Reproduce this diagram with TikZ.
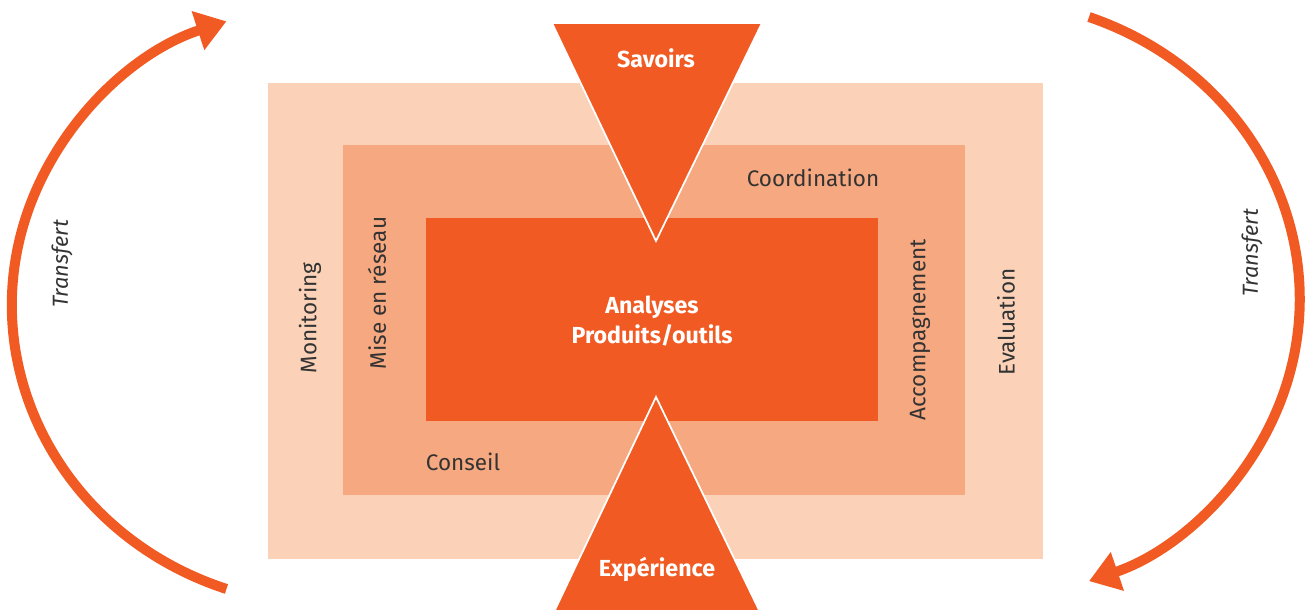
\documentclass[tikz,border=0pt]{standalone}
\usepackage{fontspec}
\setmainfont{Fira Sans}
\usetikzlibrary{arrows.meta}

\definecolor{orangefort}{HTML}{F15A22}
\definecolor{orangemoyen}{HTML}{F6A880}
\definecolor{orangeclair}{HTML}{FBD2B8}
\definecolor{textgris}{HTML}{333333}

\tikzset{
  label/.style={text=textgris,font=\fontsize{6.4}{8}\selectfont,inner sep=0pt},
  titre/.style={text=white,font=\fontsize{6.6}{8.5}\selectfont\bfseries,inner sep=0pt,align=center},
  pointe/.style={draw=white,fill=orangefort,line width=0.5pt,line join=miter},
  transfert/.style={draw=orangefort,line width=1mm,-{Triangle[length=3mm,width=3.9mm]}},
}

\begin{document}
\begin{tikzpicture}[x=0.01cm,y=0.01cm]
\useasboundingbox (0,0) rectangle (1311,610);

\fill[orangeclair] (268,51) rectangle (1043,527);
\fill[orangemoyen] (343,115) rectangle (965,465);
\fill[orangefort] (426,189) rectangle (878,392);

\filldraw[pointe] (552,587) -- (762,587) -- (656,369) -- cycle;
\filldraw[pointe] (554,-2) -- (760,-2) -- (656,213) -- cycle;

\node[titre] (savoirs) at (656,552) {Savoirs};
\node[titre] (experience) at (657,41) {Expérience};
\node[titre] (analyses) at (652,289) {Analyses\\Produits/outils};

\node[label] (coordination) at (813,432) {Coordination};
\node[label] (conseil) at (463,148) {Conseil};
\node[label,rotate=90] (monitoring) at (310,292) {Monitoring};
\node[label,rotate=90] (reseau) at (377,317) {Mise en réseau};
\node[label,rotate=90] (accompagnement) at (920,280) {Accompagnement};
\node[label,rotate=90] (evaluation) at (1006,288) {Evaluation};

\coordinate (gauche) at (226.5,21);
\coordinate (droite) at (1089,593);
\draw[transfert] (gauche) arc[start angle=251,end angle=109,x radius=3.18cm,y radius=3cm];
\draw[transfert] (droite) arc[start angle=70,end angle=-70,x radius=3.2cm,y radius=3cm];

\node[label,rotate=90,font=\fontsize{6.2}{8}\selectfont\itshape] (transfertg) at (62,346) {Transfert};
\node[label,rotate=90,font=\fontsize{6.2}{8}\selectfont\itshape] (transfertd) at (1252,357) {Transfert};
\end{tikzpicture}
\end{document}
